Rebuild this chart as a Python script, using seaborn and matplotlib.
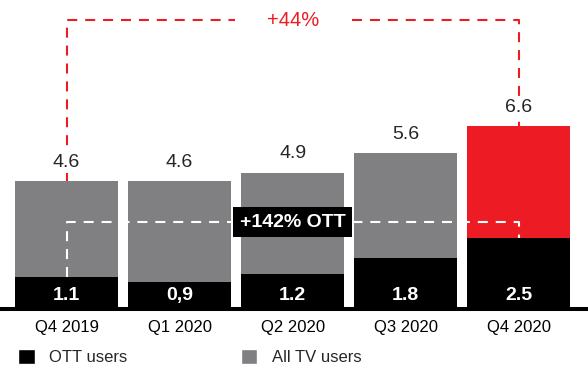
import matplotlib
matplotlib.use('Agg')
import matplotlib.pyplot as plt
import seaborn as sns
import pandas as pd
from matplotlib.patches import Patch

# data
quarters = ['Q4 2019', 'Q1 2020', 'Q2 2020', 'Q3 2020', 'Q4 2020']
all_tv = [4.6, 4.6, 4.9, 5.6, 6.6]
ott = [1.1, 0.9, 1.2, 1.8, 2.5]
total_labels = ['4.6', '4.6', '4.9', '5.6', '6.6']
ott_labels = ['1.1', '0,9', '1.2', '1.8', '2.5']
growth_all = '+44%'
growth_ott = '+142% OTT'

GRAY = '#808083'
RED = '#ED1C24'

sns.set_theme(style='white')
plt.rcParams['font.family'] = ['Liberation Sans', 'DejaVu Sans']

df = pd.DataFrame({'quarter': quarters, 'all_tv': all_tv, 'ott': ott})

fig = plt.figure(figsize=(5.88, 3.79), dpi=100)
ax = fig.add_axes([0, 0.19, 1, 0.81])

# total bars (last one highlighted) and OTT overlay
sns.barplot(data=df, x='quarter', y='all_tv', hue='quarter',
            palette=[GRAY] * 4 + [RED], width=0.91, legend=False,
            saturation=1, errorbar=None, linewidth=0, ax=ax, zorder=2)
sns.barplot(data=df, x='quarter', y='ott', color='black', width=0.91,
            saturation=1, errorbar=None, linewidth=0, ax=ax, zorder=2)

ax.set_xlim(-0.588, 4.611)
ax.set_ylim(0, 11.2)

# value labels
for i, (t, lab) in enumerate(zip(all_tv, total_labels)):
    ax.annotate(lab, (i, t), xytext=(0, 13.5), textcoords='offset points',
                ha='center', va='center', fontsize=14,
                bbox=dict(fc='white', ec='none', pad=1.5), zorder=5)
for i, lab in enumerate(ott_labels):
    ax.text(i, 0.42, lab, ha='center', va='center', color='white',
            fontsize=14, fontweight='bold', zorder=5)

# red dashed bracket: overall growth
dash = (0, (4.8, 3.8))
top_y = 10.47
ax.plot([0, 0, 1.49], [all_tv[0], top_y, top_y], color=RED, lw=1.5, ls=dash, zorder=1)
ax.plot([2.52, 4, 4], [top_y, top_y, all_tv[-1]], color=RED, lw=1.5, ls=dash, zorder=1)
ax.text(2, top_y, growth_all, color=RED, fontsize=14.5, ha='center', va='center')

# white dashed bracket: OTT growth
mid_y = 3.10
ax.plot([0, 0, 4, 4], [ott[0], mid_y, mid_y, ott[-1]], color='white', lw=1.5, ls=dash, zorder=3)
ax.text(2, mid_y, growth_ott, ha='center', va='center', color='white',
        fontsize=14, fontweight='bold', zorder=4,
        bbox=dict(boxstyle='square,pad=0.35', fc='black', ec='none'))

ax.set_xlabel('')
ax.set_ylabel('')
ax.set_yticks([])
ax.tick_params(axis='x', length=0, pad=8, labelsize=12, labelcolor='black')
sns.despine(ax=ax, left=True)
ax.spines['bottom'].set_color('black')
ax.spines['bottom'].set_linewidth(2.9)
ax.spines['bottom'].set_position(('outward', 1.5))

handles = [Patch(fc='black', label='OTT users'), Patch(fc=GRAY, label='All TV users')]
fig.legend(handles=handles, loc='center left', bbox_to_anchor=(18 / 588, 22 / 379),
           ncol=2, frameon=False, fontsize=12, handlelength=1.0, handleheight=1.0,
           handletextpad=0.87, columnspacing=6.8, borderpad=0, borderaxespad=0)

fig.savefig('out.png', dpi=100)
